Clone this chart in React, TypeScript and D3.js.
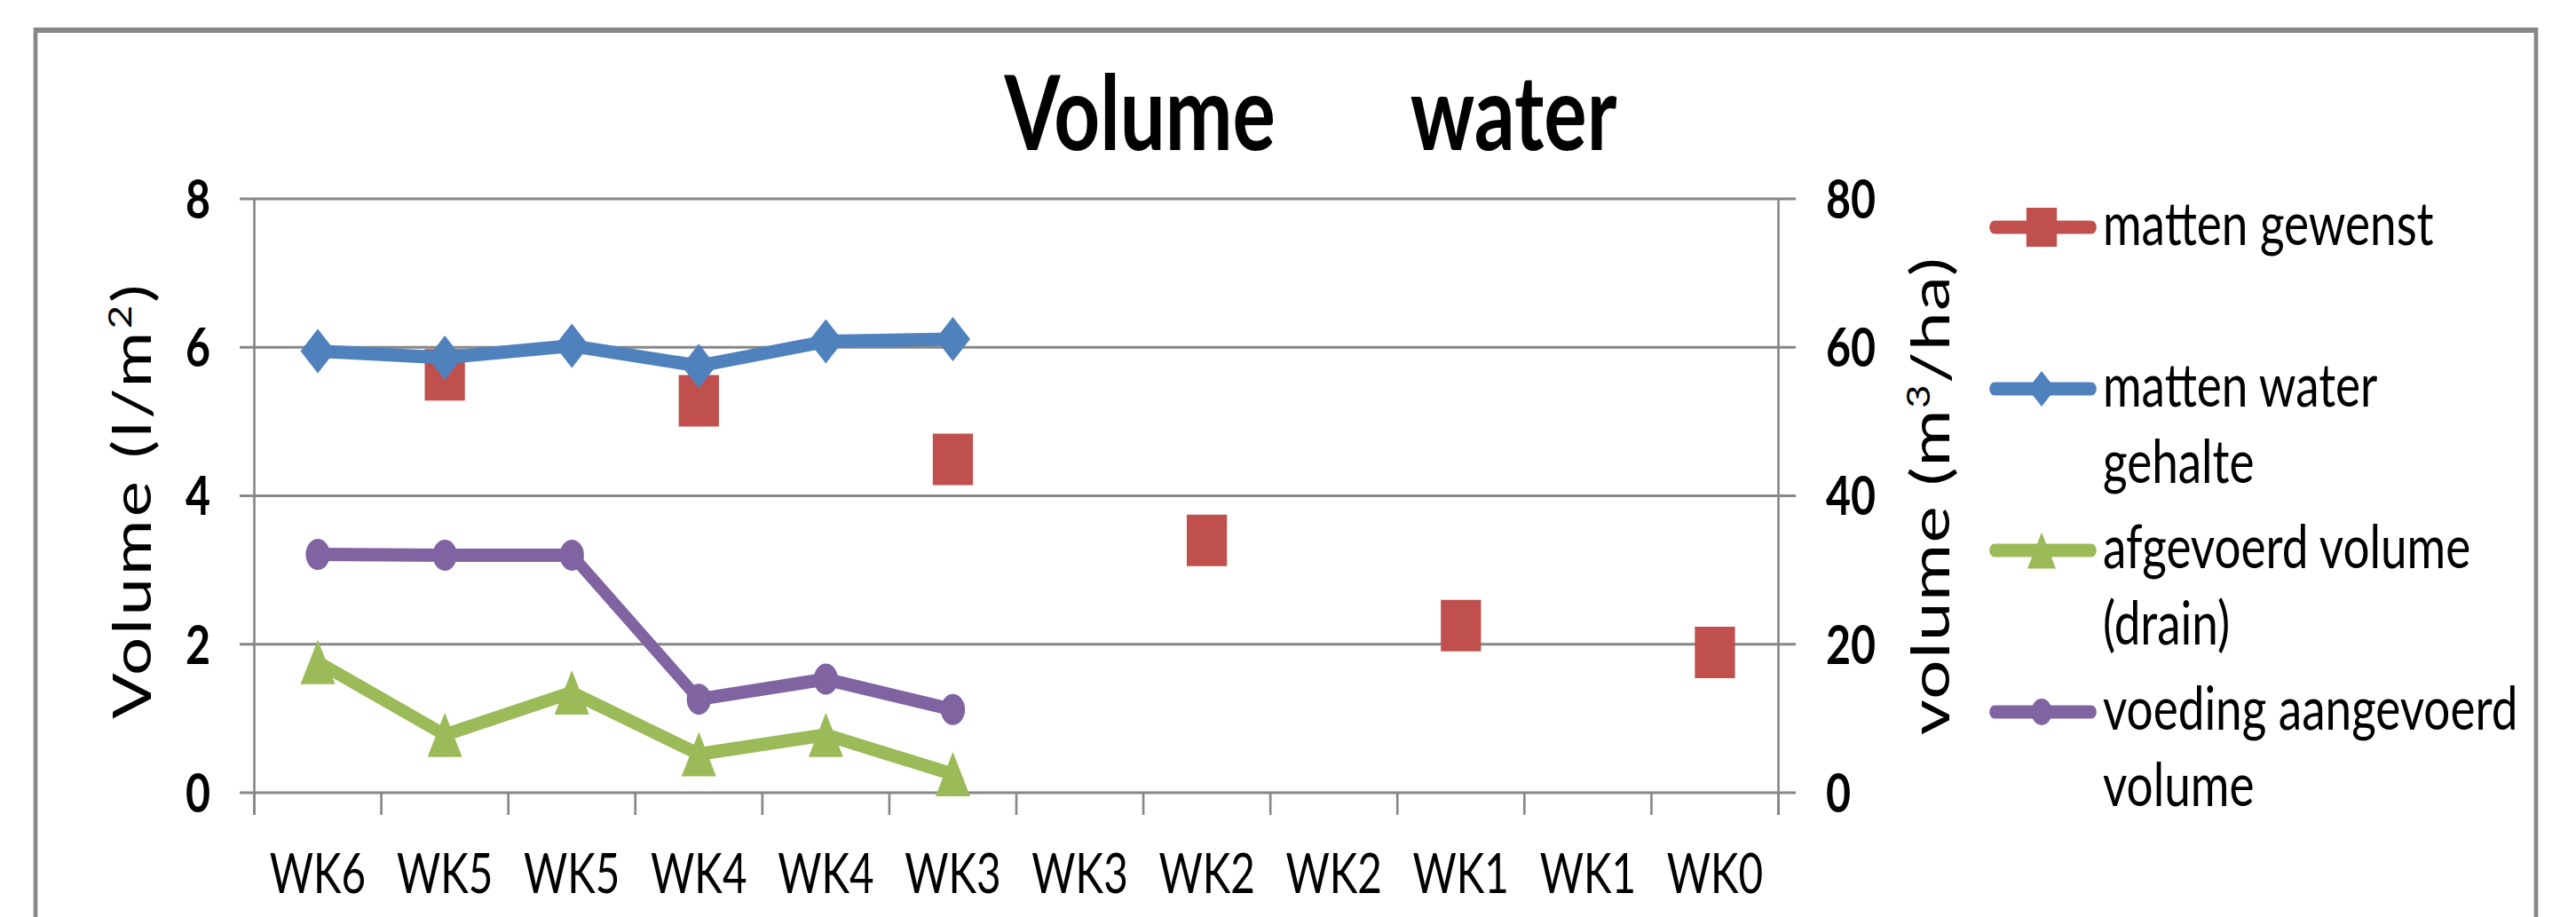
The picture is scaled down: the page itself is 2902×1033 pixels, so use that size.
import React from 'react';
import * as d3 from 'd3';

// ---------- data ----------
const categories = ['WK6', 'WK5', 'WK5', 'WK4', 'WK4', 'WK3', 'WK3', 'WK2', 'WK2', 'WK1', 'WK1', 'WK0'];
const mattenGewenst: (number | null)[] = [null, 5.63, null, 5.28, null, 4.49, null, 3.4, null, 2.25, null, 1.89];
const mattenWaterGehalte = [5.95, 5.86, 6.02, 5.75, 6.08, 6.11];
const afgevoerdVolume = [1.76, 0.78, 1.35, 0.52, 0.78, 0.25];
const voedingVolume = [3.21, 3.2, 3.2, 1.26, 1.53, 1.12];
const leftTicks = [0, 2, 4, 6, 8];
const rightTicks = [0, 20, 40, 60, 80];
const titleText = 'Volume       water';
const legendLabels = [
  ['matten gewenst'],
  ['matten water', 'gehalte'],
  ['afgevoerd volume', '(drain)'],
  ['voeding aangevoerd', 'volume'],
];

// ---------- layout ----------
const W = 2902;
const H = 1033;
const SX = 0.78; // horizontal compression of the whole picture
const X = (v: number) => v / SX;
const plotLeft = 286.5;
const plotRight = 2003.5;
const plotTop = 224;
const plotBottom = 893;
const FONT = "Lato, 'Open Sans', 'DejaVu Sans', sans-serif";
const GRID = '#878787';

const RED = '#C0504D';
const BLUE = '#4F81BD';
const GREEN = '#9BBB59';
const PURPLE = '#8064A2';

// custom Excel-like symbols for d3.symbol
const diamondType = {
  draw(ctx: any, size: number) {
    const r = Math.sqrt(size) / 2;
    ctx.moveTo(0, -r);
    ctx.lineTo(r, 0);
    ctx.lineTo(0, r);
    ctx.lineTo(-r, 0);
    ctx.closePath();
  },
};
const triangleType = {
  draw(ctx: any, size: number) {
    const r = Math.sqrt(size) / 2;
    ctx.moveTo(0, -r);
    ctx.lineTo(r, r);
    ctx.lineTo(-r, r);
    ctx.closePath();
  },
};

export default function App() {
  const idx = categories.map((_, i) => i);
  const x = d3.scaleBand<number>().domain(idx).range([X(plotLeft), X(plotRight)]).padding(0);
  const cx = (i: number) => (x(i) as number) + x.bandwidth() / 2;
  const yL = d3.scaleLinear().domain([0, 8]).range([plotBottom, plotTop]);
  const yR = d3.scaleLinear().domain([0, 80]).range([plotBottom, plotTop]);

  const line = d3
    .line<number>()
    .x((_, i) => cx(i))
    .y((d) => yL(d));

  const sq = (s: number) => d3.symbol().type(d3.symbolSquare).size(s * s)();
  const dia = (s: number) => d3.symbol().type(diamondType as any).size(s * s)();
  const tri = (s: number) => d3.symbol().type(triangleType as any).size(s * s)();
  const circ = (d: number) => d3.symbol().type(d3.symbolCircle).size((Math.PI * d * d) / 4)();

  const series = [
    { name: legendLabels[0], color: RED, data: mattenGewenst, showLine: false, mk: sq(58), lmk: sq(44) },
    { name: legendLabels[1], color: BLUE, data: mattenWaterGehalte, showLine: true, mk: dia(50), lmk: dia(40) },
    { name: legendLabels[2], color: GREEN, data: afgevoerdVolume, showLine: true, mk: tri(50), lmk: tri(41) },
    { name: legendLabels[3], color: PURPLE, data: voedingVolume, showLine: true, mk: circ(35), lmk: circ(30) },
  ];

  const tickTop = plotTop;
  const tickBottom = 918;
  const boundaries = d3.range(categories.length + 1).map((i) => X(plotLeft) + i * x.bandwidth());

  return (
    <svg
      width={W}
      height={H}
      style={{ position: 'absolute', left: 0, top: 0, background: '#fff' }}
    >
      <rect x={0} y={0} width={W} height={H} fill="#fff" />
      <g transform={`scale(${SX},1)`}>
        {/* outer chart border */}
        <rect x={X(40)} y={34} width={X(2857) - X(40)} height={1200} fill="none" stroke={GRID} strokeWidth={6} />

        {/* title */}
        <text
          x={X(1476.5)}
          y={169}
          textAnchor="middle"
          fontFamily={FONT}
          fontWeight={700}
          fontSize={116}
          style={{ whiteSpace: 'pre' }}
        >
          {titleText}
        </text>

        {/* gridlines */}
        {leftTicks.map((t) => (
          <line key={'g' + t} x1={X(270)} x2={X(2023)} y1={yL(t)} y2={yL(t)} stroke={GRID} strokeWidth={3.2} />
        ))}
        {/* axes */}
        <line x1={X(plotLeft)} x2={X(plotLeft)} y1={tickTop} y2={tickBottom} stroke={GRID} strokeWidth={3.4} />
        <line x1={X(plotRight)} x2={X(plotRight)} y1={tickTop} y2={tickBottom} stroke={GRID} strokeWidth={3.4} />
        {boundaries.map((bx, i) => (
          <line key={'t' + i} x1={bx} x2={bx} y1={plotBottom} y2={tickBottom} stroke={GRID} strokeWidth={3.4} />
        ))}

        {/* left tick labels */}
        {leftTicks.map((t) => (
          <text
            key={'l' + t}
            x={X(237)}
            y={yL(t) + 22}
            textAnchor="end"
            fontFamily={FONT}
            fontWeight={700}
            fontSize={62}
          >
            {t}
          </text>
        ))}
        {/* right tick labels */}
        {rightTicks.map((t) => (
          <text
            key={'r' + t}
            x={X(2057)}
            y={yR(t) + 22}
            textAnchor="start"
            fontFamily={FONT}
            fontWeight={700}
            fontSize={62}
          >
            {t}
          </text>
        ))}

        {/* x labels */}
        {categories.map((c, i) => (
          <text key={'x' + i} x={cx(i)} y={1006} textAnchor="middle" fontFamily={FONT} fontSize={61}>
            {c}
          </text>
        ))}

        {/* axis titles */}
        <text
          transform={`translate(${X(170)},${(plotTop + plotBottom) / 2 + 5}) rotate(-90)`}
          textAnchor="middle"
          fontFamily={FONT}
          fontSize={76}
          letterSpacing={3.2}
        >
          Volume (l/m<tspan baselineShift="super" fontSize={46}>2</tspan>)
        </text>
        <text
          transform={`translate(${X(2196)},${(plotTop + plotBottom) / 2}) rotate(-90)`}
          textAnchor="middle"
          fontFamily={FONT}
          fontSize={78}
          letterSpacing={1.5}
        >
          volume (m<tspan baselineShift="super" fontSize={46}>3</tspan>/ha)
        </text>

        {/* series */}
        {series.map((s, si) => (
          <g key={'s' + si}>
            {s.showLine && (
              <path
                d={line(s.data as number[]) as string}
                fill="none"
                stroke={s.color}
                strokeWidth={15}
                strokeLinejoin="round"
                strokeLinecap="round"
              />
            )}
            {s.data.map((v, i) =>
              v == null ? null : (
                <path key={i} d={s.mk as string} transform={`translate(${cx(i)},${yL(v)})`} fill={s.color} />
              )
            )}
          </g>
        ))}

        {/* legend */}
        {series.map((s, si) => {
          const ly = 256 + si * 182;
          return (
            <g key={'lg' + si}>
              <line
                x1={X(2247)}
                x2={X(2356)}
                y1={ly}
                y2={ly}
                stroke={s.color}
                strokeWidth={15}
                strokeLinecap="round"
              />
              <path d={s.lmk as string} transform={`translate(${X(2300)},${ly})`} fill={s.color} />
              {s.name.map((t, li) => (
                <text key={li} x={X(2369)} y={ly + 20 + li * 86} fontFamily={FONT} fontSize={68}>
                  {t}
                </text>
              ))}
            </g>
          );
        })}
      </g>
    </svg>
  );
}
